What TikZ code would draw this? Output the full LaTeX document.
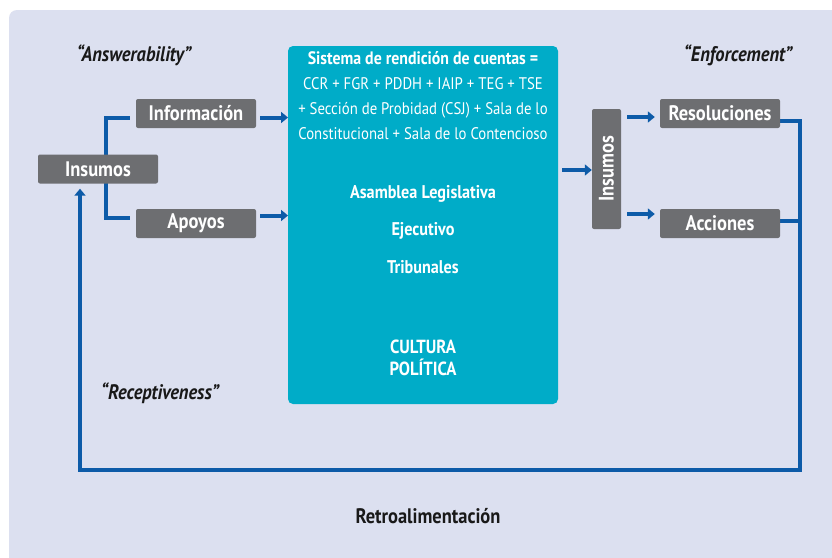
\documentclass[tikz,border=0pt]{standalone}
\usepackage{fontspec}
\setmainfont{PT Sans}[FakeStretch=0.88]
\usetikzlibrary{arrows.meta}
\pgfdeclarelayer{bg}
\pgfdeclarelayer{back}
\pgfsetlayers{back,bg,main}
\definecolor{bgc}{HTML}{DCE0F0}
\definecolor{teal}{HTML}{00ACC8}
\definecolor{boxg}{HTML}{6D6E71}
\definecolor{lineb}{HTML}{0D5BA8}
\tikzset{
  gbox/.style={fill=boxg, rounded corners=2pt, minimum width=120pt, minimum height=29pt, inner sep=0pt, text=white, font=\fontsize{21}{23}\selectfont\bfseries},
  conn/.style={draw=lineb, line width=4pt},
  arr/.style={conn, -{Triangle[length=7pt,width=11pt]}},
  quote/.style={font=\fontsize{21}{23}\selectfont\bfseries\itshape, text=black!90},
  wtext/.style={text=white, font=\fontsize{18.4}{21}\selectfont\bfseries}
}
\begin{document}
\begin{tikzpicture}[x=1pt,y=-1pt]
\useasboundingbox (0,0) rectangle (832,557);
\begin{pgfonlayer}{back}
\fill[white] (0,0) rectangle (832,557);
\fill[bgc, rounded corners=8pt] (9,10) rectangle (845,570);
\end{pgfonlayer}
% central box
\fill[teal, rounded corners=5pt] (288,46) rectangle (558,404);
\node[text=white, align=center, font=\fontsize{16.8}{25}\selectfont] (sys) at (423,96)
  {{\fontsize{18}{25}\selectfont\bfseries Sistema de rendición de cuentas =}\\CCR + FGR + PDDH + IAIP + TEG + TSE\\+ Sección de Probidad (CSJ) + Sala de lo\\Constitucional + Sala de lo Contencioso};
\node[wtext] (asam) at (423,194) {Asamblea Legislativa};
\node[wtext] (ejec) at (423,231) {Ejecutivo};
\node[wtext] (trib) at (423,267) {Tribunales};
\node[wtext, align=center, font=\fontsize{19}{22}\selectfont\bfseries] (cult) at (423,358) {CULTURA\\POLÍTICA};
% boxes
\node[gbox] (ins) at (98,169) {Insumos};
\node[gbox] (info) at (196,113.5) {Información};
\node[gbox] (apo) at (196,223.5) {Apoyos};
\node[gbox, minimum width=29pt, minimum height=120pt] (ins2) at (606.5,169) {\rotatebox{90}{Insumos}};
\node[gbox] (res) at (720,113.5) {Resoluciones};
\node[gbox] (acc) at (720,223.5) {Acciones};
% labels
\node[quote] (ans) at (134,55) {“Answerability”};
\node[quote] (enf) at (738,55) {“Enforcement”};
\node[quote] (rec) at (160,393) {“Receptiveness”};
\node[font=\fontsize{21}{23}\selectfont\bfseries, text=black!90] (retro) at (428,516) {Retroalimentación};
% connectors
\begin{pgfonlayer}{bg}
\coordinate (lb) at (106,118);
\draw[conn] ([xshift=-6pt]info.west |- 0,118) -- (lb) |- ([xshift=-6pt]apo.west |- 0,218);
\draw[arr] ([xshift=4pt]info.east |- 0,117.5) -- (288,117.5);
\draw[arr] ([xshift=4pt]apo.east |- 0,215.5) -- (288,215.5);
\draw[arr] (562,170) -- (ins2.west |- 0,170);
\draw[arr] ([xshift=6pt]ins2.east |- 0,117) -- ([xshift=-5pt]res.west |- 0,117);
\draw[arr] ([xshift=6pt]ins2.east |- 0,214) -- ([xshift=-5pt]acc.west |- 0,214);
\coordinate (rc) at (800,470);
\coordinate (lc) at (80,470);
\draw[conn] (res.east |- 0,120.5) -| (rc) -- (lc) -- (80,300);
\draw[arr] (80,300) -- ([yshift=-5pt]ins.south -| lc);
\draw[conn] (acc.east |- 0,220.5) -- (800,220.5);
\end{pgfonlayer}
\end{tikzpicture}
\end{document}
